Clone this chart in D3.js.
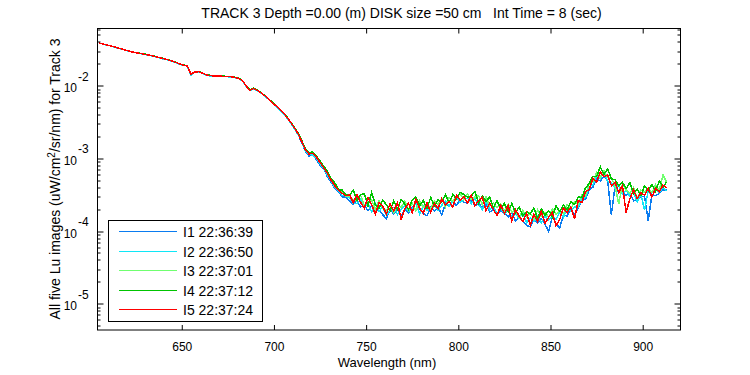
<!DOCTYPE html>
<html>
<head>
<meta charset="utf-8">
<script src="https://cdn.jsdelivr.net/npm/d3@7"></script>
<style>
    body { margin: 0; background: #fff; }
    svg { display: block; font-family: Arial, "Liberation Sans", Helvetica, sans-serif; }
</style>
</head>
<body>
<div id="chart"></div>
<script>
//Wavelength samples (nm)
const wavelengths = [
    605,607,609,611,613,615,617,619,621,623,
    625,627,629,631,633,635,637,639,641,643,
    645,647,649,651,653,655,657,659,661,663,
    665,667,669,671,673,675,677,679,681,683,
    685,687,689,691,693,695,697,699,701,703,
    705,707,709,711,713,715,717,719,721,723,
    725,727,729,731,733,735,737,739,741,743,
    745,747,749,751,753,755,757,759,761,763,
    765,767,769,771,773,775,777,779,781,783,
    785,787,789,791,793,795,797,799,801,803,
    805,807,809,811,813,815,817,819,821,823,
    825,827,829,831,833,835,837,839,841,843,
    845,847,849,851,853,855,857,859,861,863,
    865,867,869,871,873,875,877,879,881,883,
    885,887,889,891,893,895,897,899,901,903,
    905,907,909,911,913
];

//Lu values, in units of 1e-5 uW/cm^2/sr/nm
const UNIT = 1e-5;

const luI1 = [
    3870,3750,3640,3540,3430,3310,3210,3100,3000,2910,
    2840,2780,2720,2660,2600,2530,2460,2390,2320,2240,
    2160,2070,1980,1910,1860,1420,1530,1550,1490,1410,
    1370,1355,1345,1340,1335,1330,1315,1290,1250,1160,
    970,860,910,850,790,720,650,580,520,468,
    418,362,308,258,216,166,126,108,113,96,
    81,71,56,47,38.5,35,29.5,29,26.1,23.4,
    26,21.4,23.1,19,22.7,19.2,19.4,16.8,14.8,19.8,
    17.2,20.1,16.1,20.2,17.6,21.3,19.6,20.7,17.4,16.2,
    21.3,18.8,21.4,16.7,24.1,21.9,25.1,22.5,26.9,24.8,
    24.3,26.7,22.2,24.2,20.9,23.4,18.2,19.8,17.3,19.2,
    17.7,15.6,17.8,13.8,15.6,13.7,12,11.4,14.9,12.8,
    14.8,12.4,9.9,15.9,12.5,11.1,16.6,16.1,19.6,16.8,
    20.8,26.5,27.2,37.2,40.2,51.9,48.7,57.6,48.7,16.8,
    41.6,33.8,35.9,30.8,33.7,26.1,26.6,29.8,29.6,13.9,
    32,30.6,32.7,36.9,36.9
];

const luI2 = [
    3870,3750,3640,3540,3430,3270,3210,3100,3000,2910,
    2840,2780,2720,2660,2600,2530,2460,2360,2320,2240,
    2160,2070,1950,1910,1860,1400,1530,1550,1490,1410,
    1370,1355,1345,1340,1335,1330,1315,1290,1250,1150,
    970,860,910,850,790,720,650,580,520,468,
    418,362,308,258,212,170,128,113,111,101,
    84,73,58,49,39.5,36,31,30.5,28.5,23.9,
    23.9,27.2,21.6,23.6,18.3,24.2,18.7,21.5,16.3,19.5,
    21.2,16.9,19.8,22.7,18.5,19.8,24.2,17.3,21.9,19.4,
    19.2,22.7,19.3,22.6,25.9,21.9,26.1,29,24.7,27.1,
    28.4,23.8,27.9,23,19.8,25.5,19.7,21.6,17.2,20.9,
    17.1,19.6,15.2,17.1,14.9,17.6,13.1,15.1,13.5,16,
    13,16.2,14.1,16,14.6,18,15.4,21,18.8,21.3,
    21.1,27.5,29.2,40.6,43.3,56.4,52.4,63.7,47.9,46.6,
    38.9,42.3,32.2,36.5,30,34.5,25.1,31.9,19.4,36.1,
    29.7,37.6,33.8,39.6,35.7
];

const luI3 = [
    3880,3760,3650,3550,3440,3330,3220,3110,3010,2920,
    2850,2790,2740,2670,2610,2540,2470,2400,2330,2250,
    2170,2080,1990,1920,1870,1440,1545,1560,1500,1425,
    1385,1365,1355,1355,1345,1340,1325,1300,1260,1170,
    985,870,920,860,800,730,660,590,530,475,
    425,370,315,265,224,174,136,116,121,104,
    90,75,65,50,45,36.5,35.5,30.5,30.5,26.9,
    26,31,22.4,25.2,26.8,19.5,26.4,20.7,19,23.3,
    17.8,23.4,21.1,25.9,19.3,24.2,19,26.1,21.1,23.9,
    20.4,25.9,23,28.4,21.5,29.2,25.4,29.7,32.9,26.9,
    32.3,27.2,29.4,31,23.1,29.5,22.1,24.3,21,23.4,
    18.9,23.4,18.1,19.9,15.1,19.4,15.6,17.8,14.6,19.4,
    15.9,18.2,15.4,20,17,19,17,23.3,20.3,25.1,
    23.3,31.4,30.5,45.6,47.9,64.4,54.8,68.2,54.7,53.3,
    42.3,23.7,43.8,36.5,33.1,39.4,27.7,36.5,33.9,39.3,
    33.6,43.5,36.1,59.5,46.7
];

const luI4 = [
    3890,3760,3660,3550,3450,3330,3230,3110,3020,2930,
    2850,2800,2760,2680,2610,2550,2470,2410,2330,2260,
    2170,2090,1990,1930,1870,1450,1550,1570,1500,1430,
    1395,1370,1360,1365,1350,1345,1330,1305,1265,1175,
    990,875,925,865,805,735,665,595,535,480,
    430,375,318,268,226,178,138,118,123,107,
    92,78,66,52,46,37.5,36.5,31.5,30.9,36.7,
    26.6,31.6,32.5,22.3,33.8,23,20.7,26.5,23.1,19.1,
    26.1,19.9,27.3,23.5,19.8,26.6,29.3,22.4,26.3,20.4,
    29,22.1,26.7,24.8,31.5,24.7,31.7,28,34.1,31.9,
    29.1,30,35.3,24.2,30.4,25.6,29.3,21.2,25.9,20.4,
    24,18.3,23.9,17.8,21.4,16.1,18.5,17.2,20.7,14.7,
    20.2,16.4,19.1,15.7,22,18.6,22.7,19.6,25.3,23.3,
    29.5,28.7,39.5,44.8,56.5,56.3,76.6,60.4,71.2,52.2,
    51,42,46.8,38.3,46.3,32.6,38,30.8,41.9,35.9,
    43.8,35.2,49.1,40,47.5
];

const luI5 = [
    3880,3760,3650,3550,3440,3330,3220,3110,3010,2920,
    2850,2790,2730,2670,2610,2540,2470,2400,2330,2250,
    2170,2080,1990,1920,1870,1440,1540,1560,1500,1420,
    1380,1365,1355,1350,1345,1340,1325,1300,1260,1170,
    980,870,920,860,800,730,660,590,530,475,
    425,370,315,265,220,172,132,115,117,104,
    88,74,62,50,42,36.5,33,30.5,31.5,24.6,
    31.6,24.7,20.6,28.8,23.2,17,24.4,21.8,17.1,24,
    18.8,24.7,14.6,20.3,24.2,17.9,27.4,20.4,17.6,24.2,
    18.3,23.9,20.2,27.8,22.6,25.6,21.2,31,26.6,29.9,
    24.4,31.1,22.4,26,29.3,19.2,24.2,19.8,16.4,22.7,
    17.3,22.2,13.8,19.8,16,13.5,17.6,12,17.1,13.6,
    18.6,12.8,15.5,17.9,11.8,14.5,20.9,17.8,21.5,14.6,
    26.4,24.6,34.7,37.2,52.8,47.5,64.8,56,58.8,42.1,
    47,34,42.4,18,27.6,37,28,33.6,31.1,38.5,
    29.5,39,34.3,42.9,39
];

const seriesNames = ["I1 22:36:39", "I2 22:36:50", "I3 22:37:01", "I4 22:37:12", "I5 22:37:24"];
const seriesColors = ["#0a7cf0", "#10e6f6", "#70ff70", "#00c400", "#ff0000"];

const xTickValues = [650, 700, 750, 800, 850, 900];
const yTickExponents = [-5, -4, -3, -2];

class SpectrumVis {
    constructor(parentElement) {
        this.parentElement = parentElement;
        this.initVis();
    }

    initVis() {
        let vis = this;

        vis.margin = { top: 28.5, right: 69.5, bottom: 45, left: 97.5 };
        vis.width = 750 - vis.margin.left - vis.margin.right;
        vis.height = 375 - vis.margin.top - vis.margin.bottom;

        vis.svg = d3.select("#" + vis.parentElement).append("svg")
            .attr("width", 750)
            .attr("height", 375);

        vis.g = vis.svg.append("g")
            .attr("transform", `translate(${vis.margin.left},${vis.margin.top})`);

        //Axis limits
        vis.x = d3.scaleLinear().domain([604.3, 920.5]).range([0, vis.width]);
        vis.y = d3.scaleLog().domain([Math.pow(10, -5.362), Math.pow(10, -1.2129)]).range([vis.height, 0]);

        vis.wrangleData();
    }

    wrangleData() {
        let vis = this;

        let allSeries = [luI1, luI2, luI3, luI4, luI5];
        vis.series = allSeries.map((values, i) => ({
            name: seriesNames[i],
            color: seriesColors[i],
            points: values.map((v, j) => ({ wl: wavelengths[j], lu: v * UNIT }))
        }));

        vis.updateVis();
    }

    updateVis() {
        let vis = this;

        //Lines, I1 first so that I5 ends on top
        let line = d3.line()
            .x(d => vis.x(d.wl))
            .y(d => vis.y(d.lu));

        vis.g.selectAll(".series")
            .data(vis.series)
            .join("path")
            .attr("class", "series")
            .attr("fill", "none")
            .attr("stroke", d => d.color)
            .attr("stroke-width", 1.5)
            .attr("shape-rendering", "crispEdges")
            .attr("d", d => line(d.points));

        //Axes box
        vis.g.append("rect")
            .attr("width", vis.width)
            .attr("height", vis.height)
            .attr("fill", "none")
            .attr("stroke", "#000")
            .attr("stroke-width", 1);

        //X ticks, inside at bottom and top
        let xAxisBottom = d3.axisBottom(vis.x).tickValues(xTickValues).tickSizeInner(-5).tickSizeOuter(0).tickPadding(12);
        let gx = vis.g.append("g")
            .attr("transform", `translate(0,${vis.height})`)
            .call(xAxisBottom);
        gx.select(".domain").remove();
        gx.selectAll("text").attr("font-size", 12).attr("font-family", "Arial, 'Liberation Sans', sans-serif").attr("fill", "#000");
        gx.selectAll("line").attr("stroke", "#000");

        let gxTop = vis.g.append("g")
            .call(d3.axisTop(vis.x).tickValues(xTickValues).tickSizeInner(-5).tickSizeOuter(0).tickFormat(""));
        gxTop.select(".domain").remove();
        gxTop.selectAll("line").attr("stroke", "#000");

        //Y ticks, log: majors at decades, minors at 2..9
        let yTicks = vis.y.ticks();
        let isMajor = t => Math.abs(Math.log10(t) - Math.round(Math.log10(t))) < 1e-6;

        [0, vis.width].forEach((xPos, side) => {
            vis.g.append("g").selectAll("line")
                .data(yTicks)
                .join("line")
                .attr("x1", xPos)
                .attr("x2", d => xPos + (side === 0 ? 1 : -1) * (isMajor(d) ? 6 : 3))
                .attr("y1", d => Math.round(vis.y(d)) + 0.5)
                .attr("y2", d => Math.round(vis.y(d)) + 0.5)
                .attr("stroke", "#000");
        });

        //Y tick labels as 10 with a raised exponent
        let yLabels = vis.g.append("g").selectAll("g")
            .data(yTickExponents)
            .join("g")
            .attr("transform", d => `translate(0,${vis.y(Math.pow(10, d))})`);

        yLabels.append("text")
            .attr("x", -20.5)
            .attr("y", 6.5)
            .attr("text-anchor", "end")
            .attr("font-size", 12)
            .text("10");

        yLabels.append("text")
            .attr("x", -19.5)
            .attr("y", -5)
            .attr("text-anchor", "start")
            .attr("font-size", 12)
            .text(d => d);

        //Axis labels and title
        vis.svg.append("text")
            .attr("x", 387)
            .attr("y", 367)
            .attr("text-anchor", "middle")
            .attr("font-size", 13)
            .text("Wavelength (nm)");

        let yTitle = vis.svg.append("text")
            .attr("transform", "translate(60,179) rotate(-90)")
            .attr("text-anchor", "middle")
            .attr("font-size", 14);
        yTitle.append("tspan").text("All five Lu images (uW/cm");
        yTitle.append("tspan").attr("dy", -5).attr("font-size", 10).text("2");
        yTitle.append("tspan").attr("dy", 5).text("/sr/nm) for Track 3");

        vis.svg.append("text")
            .attr("x", 401.5)
            .attr("y", 18)
            .attr("text-anchor", "middle")
            .attr("font-size", 14)
            .style("white-space", "pre")
            .text("TRACK 3 Depth =0.00 (m) DISK size =50 cm   Int Time = 8 (sec)");

        //Legend
        let legend = vis.svg.append("g").attr("transform", "translate(108.5,220.5)");
        legend.append("rect")
            .attr("width", 154)
            .attr("height", 101)
            .attr("fill", "#fff")
            .attr("stroke", "#000");

        let entries = legend.selectAll(".entry")
            .data(vis.series)
            .join("g")
            .attr("class", "entry")
            .attr("transform", (d, i) => `translate(0,${11 + Math.round(i * 19.5)})`);

        entries.append("line")
            .attr("x1", 10.5)
            .attr("x2", 68.5)
            .attr("y1", 0)
            .attr("y2", 0)
            .attr("stroke", d => d.color)
            .attr("stroke-width", 1)
            .attr("shape-rendering", "crispEdges");

        entries.append("text")
            .attr("x", 74.5)
            .attr("y", 5)
            .attr("font-size", 14)
            .text(d => d.name);
    }
}

new SpectrumVis("chart");
</script>
</body>
</html>
